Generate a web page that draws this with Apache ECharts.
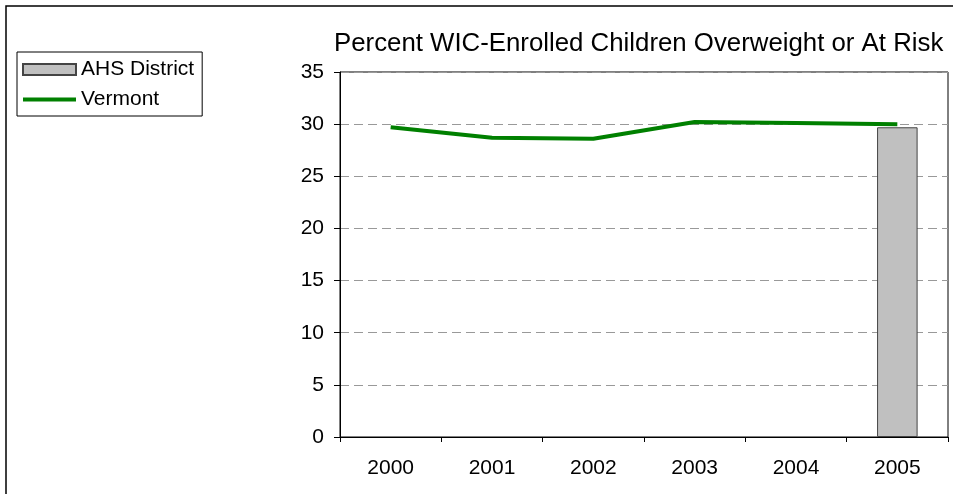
<!DOCTYPE html>
<html>
<head>
<meta charset="utf-8">
<script src="https://cdn.jsdelivr.net/npm/echarts@6/dist/echarts.min.js"></script>
<style>
html,body{margin:0;padding:0;background:#fff;}
#chart{width:953px;height:494px;}
</style>
</head>
<body>
<div id="chart"></div>
<script>
var titleText = 'Percent WIC-Enrolled Children Overweight or At Risk';
var years = ['2000', '2001', '2002', '2003', '2004', '2005'];
var ahsDistrict = [null, null, null, null, null, 29.7];
var vermont = [29.7, 28.7, 28.6, 30.2, 30.1, 30.0];
var yTicks = {min: 0, max: 35, interval: 5};

var chart = echarts.init(document.getElementById('chart'), null, {renderer: 'canvas'});
var font = 'Liberation Sans, Arial, sans-serif';
chart.setOption({
  animation: false,
  backgroundColor: '#fff',
  textStyle: {fontFamily: font},
  graphic: [{
    type: 'rect',
    shape: {x: 6, y: 6, width: 960, height: 500},
    style: {fill: 'none', stroke: '#000', lineWidth: 1.5},
    silent: true, z: -1
  }],
  title: {
    text: titleText,
    left: 329, top: 26,
    textStyle: {fontFamily: font, fontSize: 25.8, fontWeight: 'normal', color: '#000'}
  },
  legend: {
    orient: 'vertical',
    left: 17, top: 52,
    padding: [7, 8, 6, 5],
    borderColor: '#000', borderWidth: 1,
    itemWidth: 53, itemHeight: 11, itemGap: 9,
    textStyle: {fontFamily: font, fontSize: 21, lineHeight: 21, color: '#000'},
    data: [
      {name: 'AHS District', icon: 'rect'},
      {name: 'Vermont', icon: 'path://M0,0 L54,0 L54,4 L0,4 Z', itemStyle: {color: '#008000', borderWidth: 0}}
    ]
  },
  grid: {left: 340, right: 5, top: 72, bottom: 57, show: true, borderColor: '#000', borderWidth: 1, containLabel: false},
  xAxis: {
    type: 'category',
    data: years,
    boundaryGap: true,
    axisLine: {lineStyle: {color: '#000', width: 1}},
    axisTick: {show: true, alignWithLabel: false, length: 5, lineStyle: {color: '#000'}},
    axisLabel: {fontFamily: font, fontSize: 21, color: '#000', margin: 21}
  },
  yAxis: {
    type: 'value',
    min: yTicks.min, max: yTicks.max, interval: yTicks.interval,
    axisLine: {show: true, lineStyle: {color: '#000', width: 1}},
    axisTick: {show: true, length: 6, lineStyle: {color: '#000'}},
    axisLabel: {fontFamily: font, fontSize: 21, color: '#000', margin: 16},
    splitLine: {show: true, lineStyle: {color: '#999', type: [9, 5], width: 1}}
  },
  series: [{
    name: 'AHS District',
    type: 'bar',
    data: ahsDistrict,
    barWidth: '40%',
    itemStyle: {color: '#c0c0c0', borderColor: '#444', borderWidth: 1}
  }, {
    name: 'Vermont',
    type: 'line',
    data: vermont,
    symbol: 'none',
    showSymbol: false,
    z: 3,
    lineStyle: {color: '#008000', width: 4},
    itemStyle: {color: '#008000'}
  }]
});
</script>
</body>
</html>
